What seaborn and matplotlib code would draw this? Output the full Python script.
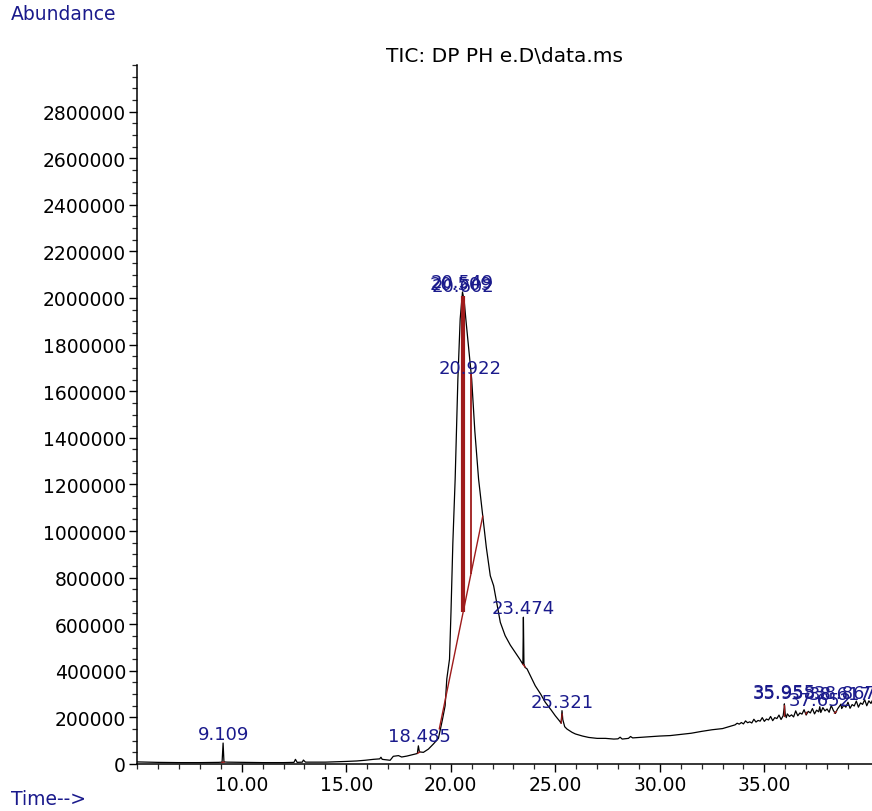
import matplotlib
matplotlib.use("Agg")
import matplotlib.pyplot as plt
import matplotlib.ticker as mticker
import seaborn as sns
import pandas as pd

# TIC trace (time in min, abundance in counts)
tic_time = [
    5.0, 6.0, 7.0, 8.0, 8.9, 9.06, 9.109, 9.15, 9.3, 10.0, 11.0, 12.0,
    12.5, 12.57, 12.65, 12.9, 12.95, 13.05, 14.0, 15.0, 15.5, 15.9, 16.3,
    16.6, 16.66, 16.72, 17.0, 17.1, 17.25, 17.5, 17.65, 17.9, 18.13, 18.4,
    18.45, 18.5, 18.69, 18.93, 19.17, 19.41, 19.6, 19.73, 19.81, 19.94,
    20.01, 20.1, 20.21, 20.34, 20.45, 20.56, 20.64, 20.72, 20.85, 21.0,
    21.15, 21.33, 21.53, 21.7, 21.89, 22.05, 22.37, 22.6, 22.85, 23.08,
    23.3, 23.45, 23.474, 23.5, 23.55, 23.65, 24.04, 24.3, 24.52, 24.8,
    25.0, 25.2, 25.28, 25.321, 25.36, 25.45, 25.56, 25.8, 25.96, 26.3,
    26.6, 27.0, 27.4, 27.8, 28.0, 28.1, 28.2, 28.5, 28.6, 28.7, 29.0,
    29.5, 30.0, 30.5, 31.0, 31.5, 32.0, 32.5, 33.0, 33.3, 33.5,
    33.6, 33.7, 33.8, 33.9, 34.0, 34.1, 34.2, 34.3, 34.4, 34.5, 34.6,
    34.7, 34.8, 34.9, 35.0, 35.1, 35.2, 35.3, 35.4, 35.5, 35.6, 35.7,
    35.8, 35.9, 35.955, 35.958, 36.0, 36.05, 36.1, 36.2, 36.3, 36.4,
    36.5, 36.6, 36.7, 36.8, 36.9, 37.0, 37.1, 37.2, 37.3, 37.4, 37.5,
    37.6, 37.652, 37.7, 37.8, 37.9, 38.0, 38.1, 38.2, 38.3, 38.4, 38.5,
    38.6, 38.667, 38.7, 38.8, 38.9, 39.0, 39.1, 39.2, 39.3, 39.4, 39.5,
    39.6, 39.7, 39.8, 39.9, 40.0, 40.1, 40.2,
]
tic_abund = [
    9000, 7000, 6000, 6000, 7000, 8000, 90000, 9000, 8000, 7000, 6000, 6000,
    7000, 20000, 7000, 8000, 17000, 8000, 8000, 11000, 13000, 16000, 20000,
    22000, 29000, 20000, 17000, 16000, 33000, 36000, 30000, 34000, 39000, 45000,
    78000, 52000, 50000, 64000, 86000, 110000, 190000, 250000, 365000, 450000,
    651000, 950000, 1223000, 1652000, 1910000, 2026000, 1990000, 1910000, 1790000, 1652000,
    1430000, 1223000, 1064000, 930000, 808000, 765000, 608000, 551000, 510000, 479000,
    450000, 428000, 630000, 430000, 415000, 408000, 336000, 300000, 265000, 232000,
    207000, 185000, 175000, 229000, 190000, 160000, 150000, 136000, 129000, 120000,
    114000, 110000, 110000, 107000, 108000, 115000, 107000, 110000, 118000, 112000, 114000,
    117000, 120000, 122000, 127000, 132000, 140000, 147000, 152000, 160000, 165000,
    168000, 175000, 171000, 178000, 172000, 185000, 177000, 181000, 176000, 192000, 180000,
    187000, 184000, 199000, 183000, 193000, 189000, 204000, 186000, 199000, 195000, 210000,
    191000, 207000, 245000, 258000, 212000, 199000, 215000, 204000, 211000, 202000,
    228000, 207000, 219000, 214000, 233000, 210000, 226000, 219000, 238000, 215000, 231000,
    224000, 246000, 221000, 242000, 228000, 236000, 222000, 251000, 230000, 217000, 236000,
    249000, 257000, 238000, 252000, 244000, 265000, 239000, 255000, 249000, 270000, 244000,
    262000, 256000, 276000, 250000, 271000, 260000, 279000,
]

# integration baseline of the main peak and its drop lines
base_time = [19.45, 21.53]
base_abund = [150000, 1064000]
drop_time = [20.585, 20.97]
drop_low = [651000, 817000]
drop_high = [2010000, 1680000]

# small red integration marks on the minor peaks
mark_time = [[9.05, 9.17], [18.42, 18.52], [23.45, 23.56], [25.28, 25.33],
             [35.958, 35.958], [36.98, 37.03], [38.35, 38.45]]
mark_abund = [[7000, 8000], [46000, 52000], [428000, 416000], [175000, 215000],
              [205000, 255000], [214000, 222000], [218000, 226000]]

# peak labels: text, retention time, label anchor height
peak_text = ["9.109", "18.485", "20.509", "20.549", "20.602", "20.922",
             "23.474", "25.321", "35.955", "35.958", "37.652", "38.617", "38.867"]
peak_rt = [9.109, 18.485, 20.509, 20.549, 20.602, 20.922,
           23.474, 25.321, 35.955, 35.958, 37.652, 38.617, 38.867]
peak_h = [90000, 80000, 2020000, 2030000, 2015000, 1660000,
          630000, 229000, 270000, 268000, 236000, 262000, 264000]

y_ticks = list(range(0, 3000000, 200000))
x_ticks = [10, 15, 20, 25, 30, 35]
x_minor = list(range(5, 40))

sns.set_style("ticks")
plt.rcParams['font.family'] = ['DejaVu Sans']

navy = "#1a1a8c"
red = "#9e1b1b"

fig = plt.figure(figsize=(8.72, 8.12), dpi=100)
ax = fig.add_axes([137.2 / 872, 47 / 812, (872 - 137.2) / 872, 699 / 812])

df = pd.DataFrame({"time": tic_time, "abundance": tic_abund})
sns.lineplot(data=df, x="time", y="abundance", color="black", lw=0.9, ax=ax)

ax.plot(base_time, base_abund, color=red, lw=1.0)
ax.vlines(drop_time, drop_low, drop_high, colors=red, lw=[3.0, 1.3])
for mt, ma in zip(mark_time, mark_abund):
    ax.plot(mt, ma, color=red, lw=1.0)

for txt, rt, h in zip(peak_text, peak_rt, peak_h):
    ax.text(rt, h, txt, ha="center", va="bottom", fontsize=13, color=navy)

ax.set_xlim(5.0, 40.15)
ax.set_ylim(0, 3000000)
ax.set_yticks(y_ticks)
ax.yaxis.set_minor_locator(mticker.MultipleLocator(50000))
ax.yaxis.set_major_formatter(mticker.FuncFormatter(lambda v, p: f"{v:.0f}"))
ax.set_xticks(x_ticks)
ax.xaxis.set_minor_locator(mticker.FixedLocator(x_minor))
ax.xaxis.set_major_formatter(mticker.FuncFormatter(lambda v, p: f"{v:.2f}"))
ax.tick_params(which="major", length=6, width=1, labelsize=13.5, pad=2, colors="black")
ax.tick_params(which="minor", length=3.5, width=0.9)
ax.set_xlabel("")
ax.set_ylabel("")
for side in ["top", "right"]:
    ax.spines[side].set_visible(False)
for side in ["left", "bottom"]:
    ax.spines[side].set_color("black")
    ax.spines[side].set_linewidth(1.1)

ax.set_title("TIC: DP PH e.D\\data.ms", fontsize=14.5, pad=1, color="black")
fig.text(11 / 872, 1 - 15 / 812, "Abundance", fontsize=13.5, color=navy, va="center")
fig.text(11 / 872, 1 - 800 / 812, "Time-->", fontsize=13.5, color=navy, va="center")

fig.savefig("out.png", dpi=100, facecolor="white")
